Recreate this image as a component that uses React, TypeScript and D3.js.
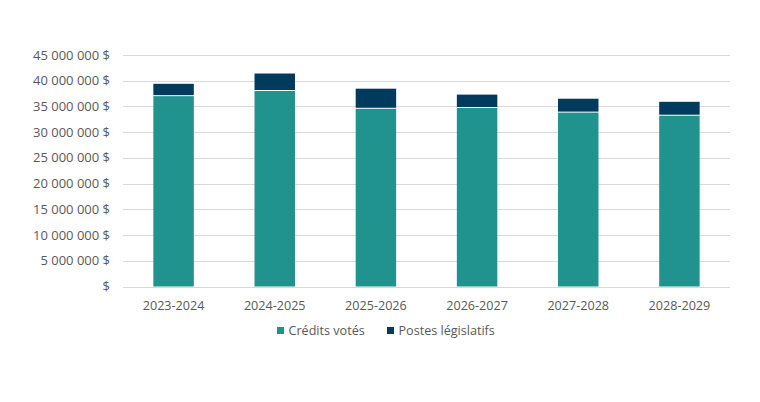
import { useEffect, useRef } from "react";
import * as d3 from "d3";

const years = ["2023-2024", "2024-2025", "2025-2026", "2026-2027", "2027-2028", "2028-2029"];
const voted = [37000000, 38000000, 34550000, 34700000, 33800000, 33200000];
const statutory = [2400000, 3400000, 3900000, 2600000, 2700000, 2700000];
const yTicks = [0, 5000000, 10000000, 15000000, 20000000, 25000000, 30000000, 35000000, 40000000, 45000000];
const seriesNames = ["Crédits votés", "Postes législatifs"];

const COLORS = ["#21938E", "#003A5D"];

export default function App() {
  const ref = useRef<SVGSVGElement | null>(null);

  useEffect(() => {
    const svg = d3.select(ref.current);
    svg.selectAll("*").remove();

    const width = 760;
    const height = 402;
    const margin = { left: 123, right: 30, top: 55, bottom: 115 };
    const font = "'Open Sans', sans-serif";

    const x = d3
      .scaleBand<string>()
      .domain(years)
      .range([margin.left, width - margin.right])
      .paddingInner(0.6)
      .paddingOuter(0.3);

    const y = d3
      .scaleLinear()
      .domain([0, 45000000])
      .range([height - margin.bottom - 0.5, margin.top]);

    const loc = d3.formatLocale({ decimal: ",", thousands: " ", grouping: [3], currency: ["", " $"] });
    const fmt = (v: number) => (v === 0 ? "$" : loc.format(",")(v) + " $");

    svg.attr("viewBox", `0 0 ${width} ${height}`).attr("width", width).attr("height", height);

    svg.append("rect").attr("width", width).attr("height", height).attr("fill", "white");

    // grid lines
    svg
      .append("g")
      .selectAll("line")
      .data(yTicks)
      .enter()
      .append("line")
      .attr("x1", margin.left)
      .attr("x2", width - margin.right)
      .attr("y1", (d) => Math.round(y(d)) + 0.5)
      .attr("y2", (d) => Math.round(y(d)) + 0.5)
      .attr("stroke", "#d9d9d9")
      .attr("stroke-width", 1);

    // y labels
    svg
      .append("g")
      .selectAll("text")
      .data(yTicks)
      .enter()
      .append("text")
      .attr("x", 110)
      .attr("y", (d) => y(d))
      .attr("dy", "0.35em")
      .attr("text-anchor", "end")
      .attr("font-family", font)
      .attr("font-size", 13)
      .attr("fill", "#595959")
      .text(fmt);

    const stacked = years.map((yr, i) => ({ yr, v: voted[i], s: statutory[i] }));

    const bars = svg.append("g");
    bars
      .selectAll("rect.voted")
      .data(stacked)
      .enter()
      .append("rect")
      .attr("class", "voted")
      .attr("x", (d) => x(d.yr)!)
      .attr("width", x.bandwidth())
      .attr("y", (d) => y(d.v))
      .attr("height", (d) => y(0) - y(d.v))
      .attr("fill", COLORS[0]);

    bars
      .selectAll("rect.stat")
      .data(stacked)
      .enter()
      .append("rect")
      .attr("class", "stat")
      .attr("x", (d) => x(d.yr)!)
      .attr("width", x.bandwidth())
      .attr("y", (d) => y(d.v + d.s))
      .attr("height", (d) => y(d.v) - y(d.v + d.s) - 1)
      .attr("fill", COLORS[1]);

    // x labels
    svg
      .append("g")
      .selectAll("text")
      .data(years)
      .enter()
      .append("text")
      .attr("x", (d) => x(d)! + x.bandwidth() / 2)
      .attr("y", 310)
      .attr("text-anchor", "middle")
      .attr("font-family", font)
      .attr("font-size", 12.6)
      .attr("fill", "#595959")
      .text((d) => d);

    // legend
    const legendX = [277, 387];
    const lg = svg.append("g");
    seriesNames.forEach((name, i) => {
      lg.append("rect")
        .attr("x", legendX[i])
        .attr("y", 327)
        .attr("width", 7)
        .attr("height", 7)
        .attr("fill", COLORS[i]);
      lg.append("text")
        .attr("x", legendX[i] + 11.5)
        .attr("y", 335)
        .attr("font-family", font)
        .attr("font-size", 12.6)
        .attr("fill", "#595959")
        .text(name);
    });
  }, []);

  return (
    <div style={{ position: "absolute", left: 0, top: 0 }}>
      <svg ref={ref} style={{ display: "block" }} />
    </div>
  );
}
